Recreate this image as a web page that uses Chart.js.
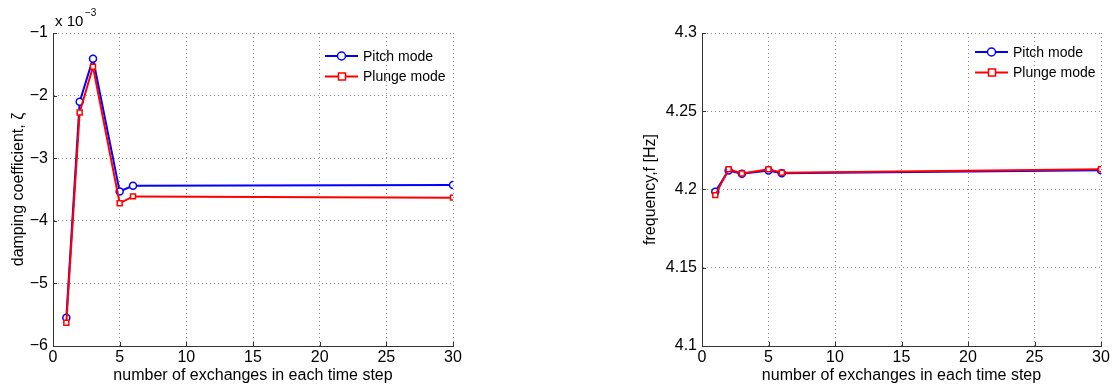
<!DOCTYPE html>
<html>
<head>
<meta charset="utf-8">
<script src="https://cdn.jsdelivr.net/npm/chart.js@4"></script>
<style>
  body { margin: 0; background: #fff; }
  #wrap { position: relative; width: 1114px; height: 385px; }
  canvas { position: absolute; top: 0; }
</style>
</head>
<body>
<div id="wrap">
  <canvas id="dampChart" width="557" height="385" style="left:0"></canvas>
  <canvas id="freqChart" width="557" height="385" style="left:557px"></canvas>
</div>
<script>
// number of exchanges in each time step
const exchanges = [1, 2, 3, 5, 6, 30];

// damping coefficient (x 10^-3)
const pitchDamping = [-5.55, -2.10, -1.41, -3.53, -3.44, -3.43];
const plungeDamping = [-5.63, -2.27, -1.54, -3.72, -3.61, -3.63];

// frequency [Hz]
const pitchFreq = [4.1985, 4.2122, 4.2101, 4.2122, 4.2104, 4.2123];
const plungeFreq = [4.1964, 4.2130, 4.2102, 4.2130, 4.2107, 4.2130];

const xTicks = [0, 5, 10, 15, 20, 25, 30];
const dampTicks = [-6, -5, -4, -3, -2, -1];
const freqTicks = [4.1, 4.15, 4.2, 4.25, 4.3];

const FONT = "'Liberation Sans', Arial, sans-serif";
const BLUE = "#0000ff";
const RED = "#ff0000";

function toPoints(ys) {
  return exchanges.map((x, i) => ({ x: x, y: ys[i] }));
}

function minus(v) {
  return String(v).replace("-", "\u2212");
}

// small inward tick marks, like MATLAB axes
const innerTicks = {
  id: "innerTicks",
  afterDatasetsDraw(chart) {
    const c = chart.ctx;
    const a = chart.chartArea;
    c.save();
    c.strokeStyle = "#333";
    c.lineWidth = 1;
    c.beginPath();
    chart.scales.x.ticks.forEach(t => {
      const px = Math.round(chart.scales.x.getPixelForValue(t.value)) + 0.5;
      c.moveTo(px, a.bottom);
      c.lineTo(px, a.bottom - 4);
    });
    chart.scales.y.ticks.forEach(t => {
      const py = Math.round(chart.scales.y.getPixelForValue(t.value)) + 0.5;
      c.moveTo(a.left, py);
      c.lineTo(a.left + 4, py);
    });
    c.stroke();
    c.restore();
  }
};

// legend drawn inside the plot, MATLAB style
const matlabLegend = {
  id: "matlabLegend",
  afterDraw(chart, args, opts) {
    const c = chart.ctx;
    c.save();
    chart.data.datasets.forEach((ds, i) => {
      const y = opts.y + i * 20.5;
      c.strokeStyle = ds.borderColor;
      c.lineWidth = 2;
      c.beginPath();
      c.moveTo(opts.x, y);
      c.lineTo(opts.x + 33, y);
      c.stroke();
      c.fillStyle = "#fff";
      c.lineWidth = 1.5;
      c.beginPath();
      if (ds.pointStyle === "rect") {
        c.rect(opts.x + 13.5, y - 3.5, 7, 7);
      } else {
        c.arc(opts.x + 16.5, y, 4, 0, Math.PI * 2);
      }
      c.fill();
      c.stroke();
      c.fillStyle = "#000";
      c.font = "14px " + FONT;
      c.textBaseline = "middle";
      c.fillText(ds.label, opts.x + 38, y + 1);
    });
    if (opts.exponent) {
      const left = chart.chartArea.left;
      c.font = "15px " + FONT;
      c.textBaseline = "alphabetic";
      c.fillText("x 10", left + 2, 26);
      c.font = "10px " + FONT;
      c.fillText("\u22123", left + 32, 16);
    }
    c.restore();
  }
};

function makeChart(id, pitch, plunge, yTicks, yTitle, opt) {
  return new Chart(document.getElementById(id), {
    type: "line",
    data: {
      datasets: [
        {
          label: "Pitch mode",
          data: toPoints(pitch),
          borderColor: BLUE,
          backgroundColor: "#fff",
          borderWidth: 2,
          pointStyle: "circle",
          pointRadius: 3.5,
          pointBorderWidth: 1.5,
          tension: 0,
          order: 1
        },
        {
          label: "Plunge mode",
          data: toPoints(plunge),
          borderColor: RED,
          backgroundColor: "#fff",
          borderWidth: 2,
          pointStyle: "rect",
          pointRadius: 3.5,
          pointBorderWidth: 1.5,
          tension: 0,
          order: 0
        }
      ]
    },
    options: {
      responsive: false,
      animation: false,
      layout: { padding: { left: opt.padLeft, right: opt.padRight, top: 33, bottom: 0 } },
      plugins: {
        legend: { display: false },
        tooltip: { enabled: false },
        matlabLegend: { x: opt.legX, y: opt.legY, exponent: opt.exponent }
      },
      scales: {
        x: {
          type: "linear",
          min: 0,
          max: 30,
          afterBuildTicks: s => { s.ticks = xTicks.map(v => ({ value: v })); },
          afterFit: s => { s.height = 39; },
          grid: { color: "#8a8a8a", drawTicks: false },
          border: { color: "#333", width: 1, dash: [1, 3] },
          ticks: { color: "#000", font: { family: FONT, size: 16 }, padding: 2, maxRotation: 0 },
          title: {
            display: true,
            text: "number of exchanges in each time step",
            color: "#000",
            font: { family: FONT, size: 16 },
            padding: { top: -3, bottom: 0 }
          }
        },
        y: {
          type: "linear",
          min: yTicks[0],
          max: yTicks[yTicks.length - 1],
          afterBuildTicks: s => { s.ticks = yTicks.map(v => ({ value: v })); },
          afterFit: s => { s.width = opt.axisWidth; },
          grid: { color: "#8a8a8a", drawTicks: false },
          border: { color: "#333", width: 1, dash: [1, 3] },
          ticks: {
            color: "#000",
            font: { family: FONT, size: 16 },
            padding: 5,
            callback: v => minus(+v.toFixed(2))
          },
          title: {
            display: true,
            text: yTitle,
            color: "#000",
            font: { family: FONT, size: 16 },
            padding: 0
          }
        }
      }
    },
    plugins: [innerTicks, matlabLegend]
  });
}

makeChart("dampChart", pitchDamping, plungeDamping, dampTicks, "damping coefficient, \u03B6",
  { padLeft: 9, axisWidth: 44, padRight: 104, legX: 325, legY: 56, exponent: true });

makeChart("freqChart", pitchFreq, plungeFreq, freqTicks, "frequency,f [Hz]",
  { padLeft: 84, axisWidth: 61, padRight: 13, legX: 418, legY: 52, exponent: false });
</script>
</body>
</html>
